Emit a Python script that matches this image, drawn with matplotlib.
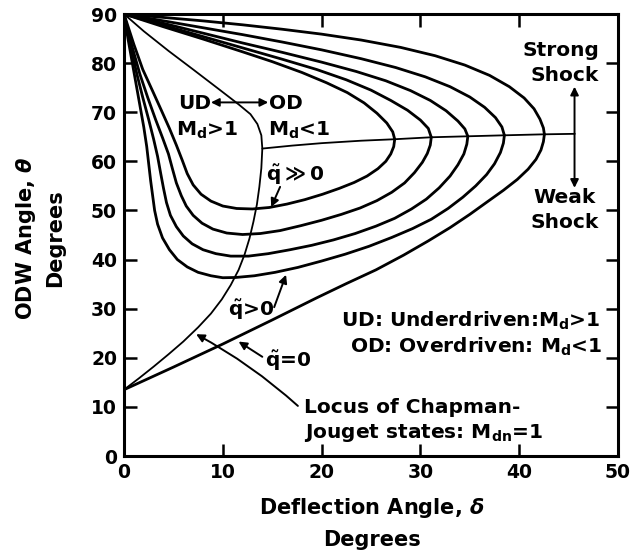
import matplotlib
matplotlib.use("Agg")
import matplotlib.pyplot as plt

plt.rcParams['font.family'] = ['DejaVu Sans']
plt.rcParams['font.weight'] = 'bold'
plt.rcParams['mathtext.fontset'] = 'dejavusans'

# ---- data: (deflection angle delta, ODW angle theta) in degrees ----
# q~ = 0 polar: strong (upper) branch and weak (lower) branch
polar_q0_upper = [(0, 90), (4, 89.3), (8, 88.6), (12, 87.8), (16, 86.9), (20, 85.9),
                  (24, 84.7), (28, 83.2), (31.5, 81.5), (34.5, 79.6), (37, 77.5),
                  (39, 75.2), (40.5, 72.9), (41.5, 70.7), (42.1, 68.6), (42.45, 66.8),
                  (42.55, 65.5)]
polar_q0_lower = [(42.55, 65.5), (42.45, 64.0), (42.2, 62.3), (41.7, 60.4), (40.9, 58.4),
                  (39.8, 56.3), (38.4, 54.1), (36.8, 51.8), (35, 49.2), (33, 46.5),
                  (30.8, 43.8), (28.3, 40.9), (25.5, 37.9), (22.5, 35.1), (19.5, 32.2),
                  (15, 27.7), (10, 22.8), (5, 18.1), (0, 13.5)]

# q~ > 0 polars, smallest heat release first
polar_q1_upper = [(0, 90), (4, 88.6), (8, 87.2), (12, 85.8), (16, 84.3), (20, 82.7),
                  (24, 80.9), (27.5, 79.1), (30.5, 77.2), (33, 75.2), (35, 73.1),
                  (36.5, 71.0), (37.6, 68.9), (38.25, 67.0), (38.5, 65.3)]
polar_q1_lower = [(38.5, 65.3), (38.4, 63.7), (38.1, 61.8), (37.5, 59.5), (36.7, 57.3),
                  (35.6, 55.0), (34.3, 52.7), (32.8, 50.4), (31.1, 48.2), (29.2, 46.3),
                  (27.1, 44.5), (24.8, 42.7), (22.4, 41.1), (20, 39.7), (17.6, 38.4),
                  (15.3, 37.4), (13.2, 36.7), (11.3, 36.35), (10.0, 36.3), (8.8, 36.7),
                  (7.5, 37.4), (6.4, 38.5), (5.4, 40.0), (4.6, 42.0), (3.9, 44.4),
                  (3.4, 47.2), (3.1, 50), (2.9, 53), (2.7, 56), (2.5, 59.5), (2.3, 63),
                  (2.0, 67), (1.6, 71.5), (1.2, 76), (0.8, 80.5), (0.4, 85), (0, 90)]

polar_q2_upper = [(0, 90), (4, 88.1), (8, 86.1), (12, 84.1), (16, 82.2), (20, 80.2),
                  (23.5, 78.3), (26.5, 76.4), (29, 74.4), (31, 72.4), (32.6, 70.3),
                  (33.8, 68.2), (34.5, 66.6), (34.8, 65.1)]
polar_q2_lower = [(34.8, 65.1), (34.7, 63.5), (34.4, 61.5), (33.8, 59.3), (33.0, 57.0),
                  (31.9, 54.6), (30.6, 52.3), (29.1, 50.3), (27.4, 48.4), (25.5, 46.8),
                  (23.4, 45.3), (21.2, 44.0), (19, 42.9), (16.8, 42.0), (14.6, 41.2),
                  (12.6, 40.7), (10.8, 40.7), (9.3, 41.2), (8.0, 42.0), (6.9, 43.2),
                  (6.0, 44.8), (5.3, 46.7), (4.7, 49.0), (4.3, 51.6), (4.0, 54.5),
                  (3.7, 57.7), (3.4, 61), (3.0, 64.5), (2.5, 68.5), (1.9, 73), (1.3, 77.8),
                  (0.65, 83.5), (0, 90)]

polar_q3_upper = [(0, 90), (4, 87.7), (8, 85.4), (12, 83.1), (16, 80.8), (19.5, 78.7),
                  (22.5, 76.6), (25, 74.5), (27, 72.4), (28.7, 70.4), (30, 68.4),
                  (30.8, 66.7), (31.1, 64.9)]
polar_q3_lower = [(31.1, 64.9), (31.0, 63.3), (30.7, 61.6), (30.2, 59.8), (29.4, 57.7),
                  (28.4, 55.6), (27.1, 53.7), (25.6, 52.0), (23.9, 50.5), (22, 49.2),
                  (20, 48.0), (17.9, 46.9), (15.8, 45.9), (13.8, 45.3), (12.0, 45.1),
                  (10.4, 45.4), (9.0, 46.2), (7.9, 47.4), (7.0, 49.0), (6.3, 50.9),
                  (5.8, 53.0), (5.3, 55.6), (4.9, 58.5), (4.5, 61.5), (3.9, 64.8),
                  (3.2, 68.5), (2.4, 73), (1.6, 77.8), (0.8, 83.5), (0, 90)]

polar_q4_upper = [(0, 90), (4, 87.4), (8, 84.9), (12, 82.3), (15, 80.3), (18, 78.1),
                  (20.5, 76.0), (22.6, 74.0), (24.3, 71.9), (25.6, 69.8), (26.6, 67.8),
                  (27.2, 66.0), (27.4, 64.5)]
polar_q4_lower = [(27.4, 64.5), (27.3, 63.0), (27.0, 61.5), (26.5, 60.0), (25.7, 58.5),
                  (24.6, 57.0), (23.3, 55.7), (21.8, 54.5), (20.1, 53.3), (18.3, 52.2),
                  (16.5, 51.3), (14.7, 50.6), (13.0, 50.3), (11.4, 50.4), (10.0, 50.9),
                  (8.8, 51.9), (7.8, 53.3), (7.0, 55.2), (6.4, 57.5), (5.9, 60.2),
                  (5.3, 63.3), (4.6, 66.7), (3.8, 70.3), (2.9, 74.3), (1.9, 78.7),
                  (1.0, 83.8), (0, 90)]

# Chapman-Jouguet locus (M_dn = 1)
cj_locus = [(0, 13.5), (1.5, 15.8), (3, 18.2), (4.5, 20.7), (6, 23.3), (7.5, 26.2),
            (8.8, 29.0), (9.9, 31.9), (10.8, 34.8), (11.6, 37.9), (12.2, 41.0),
            (12.7, 44.3), (13.1, 47.7), (13.45, 51.2), (13.7, 54.8), (13.9, 58.6),
            (14.0, 62.6), (13.9, 65.3), (13.5, 67.6), (12.8, 69.6), (11.6, 71.6),
            (9.6, 74.7), (7, 78.7), (4.5, 82.5), (2, 86.5), (0, 90)]

# Strong / weak shock boundary (M_d = 1)
sonic_line = [(14.0, 62.6), (17, 63.2), (20, 63.7), (24, 64.2), (27.4, 64.5), (31.1, 64.9),
              (34.8, 65.1), (38.5, 65.3), (42.5, 65.5), (45.6, 65.6)]

x_ticks = [0, 10, 20, 30, 40, 50]
y_ticks = [0, 10, 20, 30, 40, 50, 60, 70, 80, 90]

# ---- figure ----
fig = plt.figure(figsize=(6.3, 5.59), dpi=100)
ax = fig.add_axes([124 / 630, 103 / 559, 494 / 630, 442 / 559])


def draw(points, **kw):
    xs = [p[0] for p in points]
    ys = [p[1] for p in points]
    ax.plot(xs, ys, color='black', solid_joinstyle='round', solid_capstyle='round', **kw)


for branch in (polar_q0_upper, polar_q0_lower, polar_q1_upper, polar_q1_lower,
               polar_q2_upper, polar_q2_lower, polar_q3_upper, polar_q3_lower,
               polar_q4_upper, polar_q4_lower):
    draw(branch, lw=2.0)
draw(cj_locus, lw=1.3)
draw(sonic_line, lw=1.3)

ax.set_xlim(0, 50)
ax.set_ylim(0, 90)
ax.set_xticks(x_ticks)
ax.set_yticks(y_ticks)
ax.tick_params(direction='in', length=9, width=1.8, top=True, right=True,
               labelsize=13.5, pad=5)
for s in ax.spines.values():
    s.set_linewidth(2.2)

# axis titles
lfs = 15
fig.text(372 / 630, 1 - 508 / 559, r'Deflection Angle, $\delta$', ha='center', va='center',
         fontsize=lfs)
fig.text(372 / 630, 1 - 540 / 559, 'Degrees', ha='center', va='center', fontsize=lfs)
fig.text(26 / 630, 1 - 238 / 559, r'ODW Angle, $\theta$', ha='center', va='center',
         rotation=90, fontsize=lfs)
fig.text(55 / 630, 1 - 238 / 559, 'Degrees', ha='center', va='center', rotation=90,
         fontsize=lfs)

tfs = 14.5
arrow_kw = dict(arrowstyle='-|>', color='black', lw=1.4, mutation_scale=12,
                shrinkA=0, shrinkB=0)

# UD / OD annotation
ax.text(7.1, 71.8, 'UD', ha='center', va='center', fontsize=tfs)
ax.text(16.4, 71.8, 'OD', ha='center', va='center', fontsize=tfs)
ax.annotate('', xy=(14.6, 72.0), xytext=(8.8, 72.0),
            arrowprops=dict(arrowstyle='<|-|>', color='black', lw=1.4, mutation_scale=12,
                            shrinkA=0, shrinkB=0))
ax.text(8.4, 66.3, r'M$_\mathbf{d}$>1', ha='center', va='center', fontsize=tfs)
ax.text(14.6, 66.3, r'M$_\mathbf{d}$<1', ha='left', va='center', fontsize=tfs)

# heat release labels
ax.text(17.4, 57.2, r'$\tilde{\mathbf{q}}\gg$0', ha='center', va='center', fontsize=tfs)
ax.annotate('', xy=(14.9, 50.7), xytext=(15.8, 54.8), arrowprops=arrow_kw)
ax.text(12.9, 29.8, r'$\tilde{\mathbf{q}}$>0', ha='center', va='center', fontsize=tfs)
ax.annotate('', xy=(16.4, 36.9), xytext=(15.2, 30.3), arrowprops=arrow_kw)
ax.text(16.6, 19.4, r'$\tilde{\mathbf{q}}$=0', ha='center', va='center', fontsize=tfs)
ax.annotate('', xy=(11.6, 23.3), xytext=(14.0, 20.2), arrowprops=arrow_kw)

# Chapman-Jouguet locus label
ax.text(18.2, 9.8, 'Locus of Chapman-', ha='left', va='center', fontsize=tfs)
ax.text(18.2, 4.6, r'Jouget states: M$_\mathbf{dn}$=1', ha='left', va='center',
        fontsize=tfs)
ax.annotate('', xy=(7.3, 24.8), xytext=(17.6, 10.2),
            arrowprops=dict(arrowstyle='-|>', color='black', lw=1.4, mutation_scale=12,
                            shrinkA=0, shrinkB=0, connectionstyle='arc3,rad=0.06'))

# legend text
ax.text(48.2, 27.6, r'UD: Underdriven:M$_\mathbf{d}$>1', ha='right', va='center',
        fontsize=tfs)
ax.text(48.4, 22.2, r'OD: Overdriven: M$_\mathbf{d}$<1', ha='right', va='center',
        fontsize=tfs)

# strong / weak shock
ax.text(44.2, 82.5, 'Strong', ha='center', va='center', fontsize=tfs)
ax.text(44.6, 77.4, 'Shock', ha='center', va='center', fontsize=tfs)
ax.text(44.6, 52.6, 'Weak', ha='center', va='center', fontsize=tfs)
ax.text(44.6, 47.6, 'Shock', ha='center', va='center', fontsize=tfs)
ax.annotate('', xy=(45.6, 75.2), xytext=(45.6, 65.6), arrowprops=arrow_kw)
ax.annotate('', xy=(45.6, 54.6), xytext=(45.6, 65.6), arrowprops=arrow_kw)

fig.savefig('out.png', dpi=100)
